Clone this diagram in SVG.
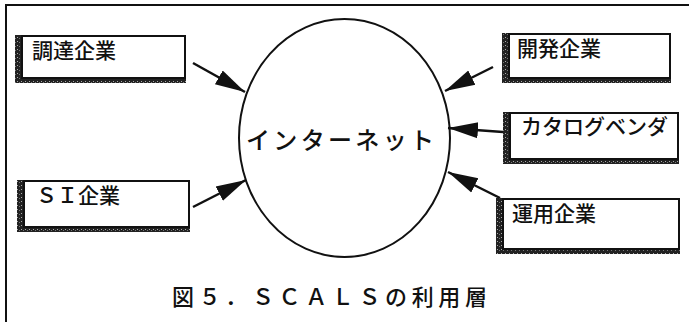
<svg xmlns="http://www.w3.org/2000/svg" width="689" height="322" viewBox="0 0 689 322">
<style>
.frame{fill:none;stroke:#111;stroke-width:2}
.shadow{fill:url(#tex)}
.inner{fill:#fff;stroke:#111;stroke-width:2}
.lbl{font-family:"Noto Sans CJK JP","Noto Sans",sans-serif;font-size:21px;font-weight:500;fill:#111}
.conn{stroke:#111;stroke-width:2.5;fill:none}
</style>
<defs>
<pattern id="tex" width="4" height="4" patternUnits="userSpaceOnUse">
<rect width="4" height="4" fill="#222"/>
<rect x="1" y="1" width="1" height="1" fill="#aaa"/>
<rect x="3" y="2" width="1" height="1" fill="#777"/>
</pattern>
<marker id="ah" markerUnits="userSpaceOnUse" markerWidth="32" markerHeight="20" refX="30" refY="10" orient="auto">
<path d="M0,2 L30,10 L0,18 Z" fill="#111"/>
</marker>
</defs>
<rect width="689" height="322" fill="#fff"/>
<path class="frame" d="M6,322 V5 H689"/>

<g id="internet">
<ellipse cx="344.5" cy="138" rx="105.5" ry="119" fill="#fff" stroke="#111" stroke-width="2"/>
<text class="lbl" x="246" y="149" style="font-size:24px" textLength="188" lengthAdjust="spacing">インターネット</text>
</g>

<g id="chotatsu">
<rect class="shadow" x="15" y="35" width="171" height="48"/>
<rect class="inner" x="22" y="36" width="163" height="42"/>
<text class="lbl" x="32" y="58">調達企業</text>
</g>

<g id="kaihatsu">
<rect class="shadow" x="502" y="33" width="169" height="50"/>
<rect class="inner" x="509" y="34" width="161" height="44"/>
<text class="lbl" x="517" y="56">開発企業</text>
</g>

<g id="catalog">
<rect class="shadow" x="503" y="112" width="176" height="52"/>
<rect class="inner" x="510" y="113" width="168" height="46"/>
<text class="lbl" x="521" y="134" textLength="147" lengthAdjust="spacing">カタログベンダ</text>
</g>

<g id="unyo">
<rect class="shadow" x="496" y="198" width="184" height="56"/>
<rect class="inner" x="503" y="199" width="176" height="50"/>
<text class="lbl" x="512" y="221">運用企業</text>
</g>

<g id="si">
<rect class="shadow" x="17" y="180" width="173" height="52"/>
<rect class="inner" x="24" y="181" width="165" height="46"/>
<text class="lbl" x="36" y="203">ＳＩ企業</text>
</g>

<g id="connectors">
<line class="conn" x1="193" y1="63" x2="245" y2="92" marker-end="url(#ah)"/>
<line class="conn" x1="493" y1="67" x2="445" y2="91" marker-end="url(#ah)"/>
<line class="conn" x1="503" y1="132" x2="448" y2="128" marker-end="url(#ah)"/>
<line class="conn" x1="500" y1="198" x2="448" y2="172" marker-end="url(#ah)"/>
<line class="conn" x1="193" y1="207" x2="246" y2="180" marker-end="url(#ah)"/>
</g>

<text id="caption" class="lbl" x="172" y="305" style="font-size:22px" textLength="315" lengthAdjust="spacing">図５．ＳＣＡＬＳの利用層</text>
</svg>
